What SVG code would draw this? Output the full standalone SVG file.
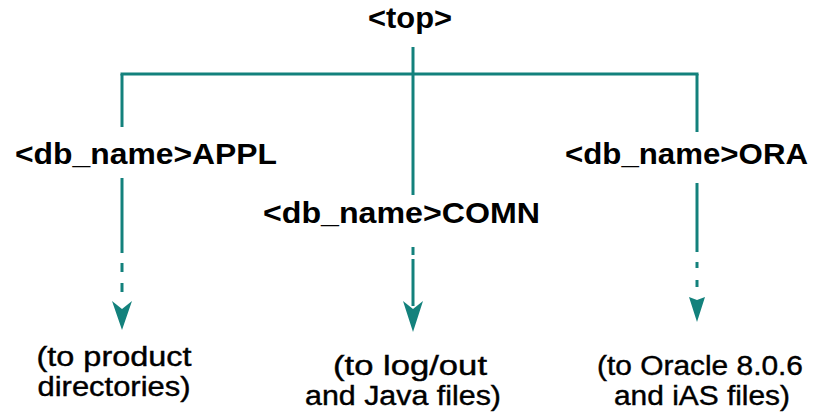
<svg xmlns="http://www.w3.org/2000/svg" width="817" height="414" viewBox="0 0 817 414">
  <style>
    .lbl { font-family: "Liberation Sans", Arial, sans-serif; font-weight: bold; font-size: 30px; fill: #000; }
    .note { font-family: "Liberation Sans", Arial, sans-serif; font-size: 27px; fill: #000; text-anchor: middle; stroke: #000; stroke-width: 0.4; }
    .ln { stroke: #13817c; stroke-width: 3; fill: none; }
    .ah { fill: #13817c; stroke: none; }
  </style>
  <rect width="817" height="414" fill="#fff"/>
  <g id="connectors">
    <line class="ln" x1="413" y1="47" x2="413" y2="195"/>
    <line class="ln" x1="120.5" y1="74" x2="698.5" y2="74"/>
    <line class="ln" x1="122" y1="74" x2="122" y2="127"/>
    <line class="ln" x1="122" y1="178" x2="122" y2="253"/>
    <line class="ln" x1="122" y1="263" x2="122" y2="272"/>
    <line class="ln" x1="122" y1="283" x2="122" y2="292"/>
    <polygon class="ah" points="112,301 122,309 132,301 122,330"/>
    <line class="ln" x1="413" y1="247" x2="413" y2="255"/>
    <line class="ln" x1="413" y1="259" x2="413" y2="306"/>
    <polygon class="ah" points="403,301 413,309 423,301 413,332"/>
    <line class="ln" x1="697" y1="74" x2="697" y2="132"/>
    <line class="ln" x1="697" y1="183" x2="697" y2="252"/>
    <line class="ln" x1="697" y1="262" x2="697" y2="268"/>
    <line class="ln" x1="697" y1="280" x2="697" y2="287"/>
    <polygon class="ah" points="689,297 697,300 705,297 697,322"/>
  </g>
  <g id="node-top">
    <text class="lbl" x="368" y="28" textLength="84" lengthAdjust="spacingAndGlyphs">&lt;top&gt;</text>
  </g>
  <g id="node-appl">
    <text class="lbl" x="15" y="164" textLength="262" lengthAdjust="spacingAndGlyphs">&lt;db_name&gt;APPL</text>
    <text class="note" x="114" y="366" textLength="155" lengthAdjust="spacingAndGlyphs">(to product</text>
    <text class="note" x="114" y="396" textLength="153" lengthAdjust="spacingAndGlyphs">directories)</text>
  </g>
  <g id="node-comn">
    <text class="lbl" x="263" y="223" textLength="277" lengthAdjust="spacingAndGlyphs">&lt;db_name&gt;COMN</text>
    <text class="note" x="410" y="375" textLength="154" lengthAdjust="spacingAndGlyphs">(to log/out</text>
    <text class="note" x="403" y="405" textLength="196" lengthAdjust="spacingAndGlyphs">and Java files)</text>
  </g>
  <g id="node-ora">
    <text class="lbl" x="565" y="164" textLength="243" lengthAdjust="spacingAndGlyphs">&lt;db_name&gt;ORA</text>
    <text class="note" x="700" y="375" textLength="206" lengthAdjust="spacingAndGlyphs">(to Oracle 8.0.6</text>
    <text class="note" x="702" y="405" textLength="176" lengthAdjust="spacingAndGlyphs">and iAS files)</text>
  </g>
</svg>
